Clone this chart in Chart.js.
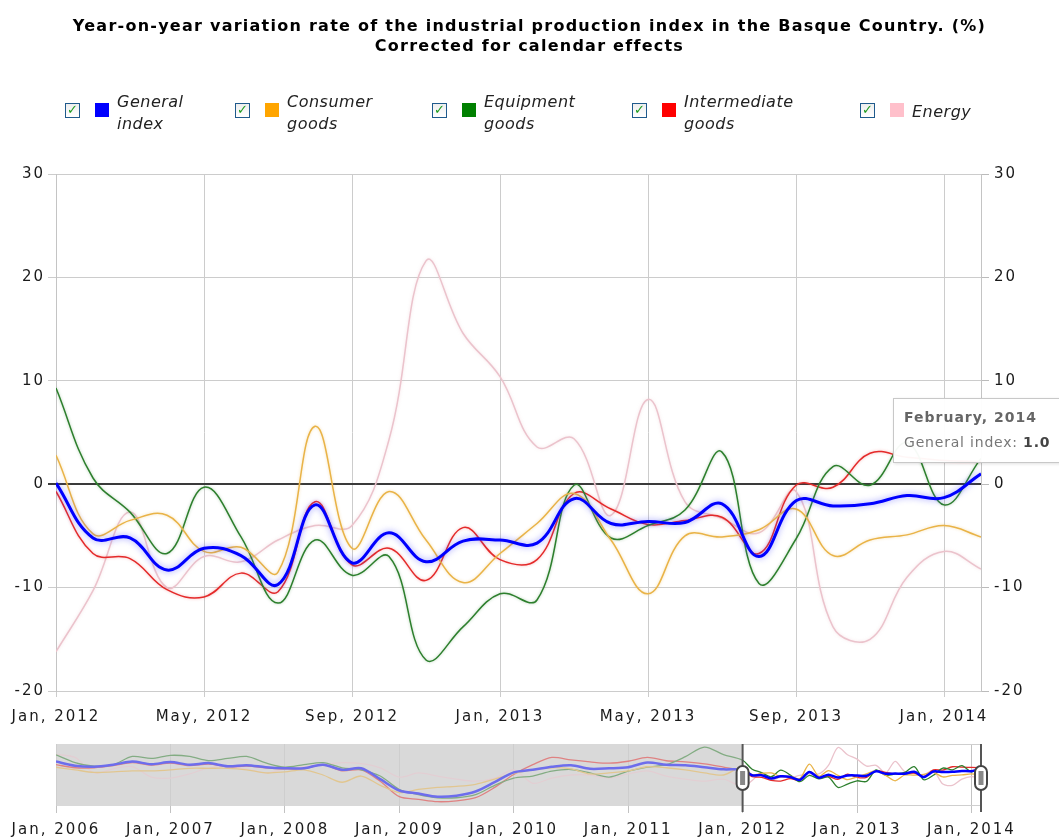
<!DOCTYPE html>
<html>
<head>
<meta charset="utf-8">
<script src="https://cdn.jsdelivr.net/npm/chart.js@4.4.1/dist/chart.umd.min.js"></script>
<style>
html,body{margin:0;padding:0;background:#fff;width:1059px;height:838px;overflow:hidden;font-family:"DejaVu Sans",Verdana,sans-serif;}
#title{position:absolute;left:0;top:16px;width:1059px;text-align:center;font-weight:bold;font-size:16px;line-height:20px;letter-spacing:1.25px;color:#000;}
#legend{position:absolute;top:91px;left:0;width:1059px;height:42px;}
.item{position:absolute;top:0;height:42px;}
.cb{position:absolute;left:0;top:12px;width:13px;height:13px;border:1px solid #1f5a8c;background:linear-gradient(#eeeeee,#fff);}
.cb span{position:absolute;left:1px;top:-2px;font-size:13px;color:#1c9a1c;font-weight:bold;}
.sq{position:absolute;left:30px;top:12px;width:14px;height:14px;}
.lb{position:absolute;left:52px;top:0;font-style:italic;font-size:16px;line-height:22px;color:#222;white-space:nowrap;letter-spacing:0.5px;}
.lb.one{top:10px;}
#main{position:absolute;left:0;top:0;}
#nav{position:absolute;left:0;top:735px;}
#tip{position:absolute;display:none;background:rgba(255,255,255,0.96);border:1px solid #c8c8c8;width:180px;height:63px;box-shadow:1px 1px 3px rgba(0,0,0,0.12);font-family:"DejaVu Sans",sans-serif;}
#tip .t{position:absolute;left:10px;top:10px;font-size:14px;font-weight:bold;color:#666;letter-spacing:1px;}
#tip .b{position:absolute;left:10px;top:35px;font-size:14px;color:#777;white-space:nowrap;letter-spacing:0.8px;}
#tip .b b{color:#444;}
</style>
</head>
<body>
<canvas id="main" width="1059" height="735"></canvas>
<canvas id="nav" width="1059" height="103"></canvas>
<div id="title"></div>
<div id="legend"></div>
<div id="tip"><div class="t"></div><div class="b"></div></div>
<script>
// ---------- data ----------
const chartTitle = ["Year-on-year variation rate of the industrial production index in the Basque Country. (%)", "Corrected for calendar effects"];
const seriesNames = ["General index", "Consumer goods", "Equipment goods", "Intermediate goods", "Energy"];
const monthLabels = ["Jan, 2012","Feb, 2012","Mar, 2012","Apr, 2012","May, 2012","Jun, 2012","Jul, 2012","Aug, 2012","Sep, 2012","Oct, 2012","Nov, 2012","Dec, 2012",
  "Jan, 2013","Feb, 2013","Mar, 2013","Apr, 2013","May, 2013","Jun, 2013","Jul, 2013","Aug, 2013","Sep, 2013","Oct, 2013","Nov, 2013","Dec, 2013",
  "Jan, 2014","Feb, 2014"];
const fullMonthNames = ["January","February","March","April","May","June","July","August","September","October","November","December"];
const xTickMonths = [0, 4, 8, 12, 16, 20, 24];
const yTicks = [-20, -10, 0, 10, 20, 30];

const generalIndex   = [0.1, -5.2, -5.2, -8.3, -6.2, -6.9, -9.7, -2.0, -7.6, -4.7, -7.5, -5.5, -5.4, -5.7, -1.4, -3.8, -3.6, -3.7, -1.9, -7.0, -1.6, -2.1, -1.9, -1.1, -1.3, 1.0];
const consumerGoods  = [2.8, -4.8, -3.5, -3.0, -6.5, -6.1, -8.5, 5.6, -6.2, -0.7, -5.4, -9.5, -6.7, -3.8, -0.9, -5.4, -10.6, -5.0, -5.1, -4.4, -2.4, -6.9, -5.4, -4.9, -4.0, -5.1];
const equipmentGoods = [9.3, 0.6, -2.7, -6.7, -0.3, -5.1, -11.5, -5.4, -8.8, -7.0, -17.0, -13.8, -10.6, -11.2, -0.1, -5.2, -4.0, -2.5, 3.1, -9.6, -5.3, 1.7, -0.1, 4.0, -2.0, 2.5];
const intermediateGoods = [-0.7, -6.7, -7.2, -10.2, -10.9, -8.6, -10.4, -1.7, -7.8, -6.2, -9.3, -4.2, -7.3, -7.3, -0.9, -2.4, -3.9, -3.5, -3.2, -6.7, -0.1, -0.3, 3.0, 2.6, 2.3, 2.2];
const energy         = [-16.2, -10.3, -2.7, -10.0, -7.0, -7.5, -5.4, -4.0, -4.0, 4.3, 21.6, 14.6, 10.4, 3.6, 4.4, -3.0, 8.2, -1.7, -3.3, -4.7, -0.7, -13.8, -15.0, -9.0, -6.5, -8.2];
const seriesValues = [generalIndex, consumerGoods, equipmentGoods, intermediateGoods, energy];

// navigator history (Jan 2006 - Nov 2011, every 2 months; month index from Jan 2006)
const histMonths = [0,2,4,6,8,10,12,14,16,18,20,22,24,26,28,30,32,34,36,38,40,42,44,46,48,50,52,54,56,58,60,62,64,66,68,70];
const histGeneral   = [8, 4, 3, 5, 8, 5.5, 7.5, 5, 6.5, 3.5, 4.5, 2.5, 1.5, 1.5, 5, 0, 1.5, -9, -20, -23, -26, -25, -21, -12, -2.5, 0, 3, 4.5, 1, 1.5, 2.6, 7, 5, 4.5, 2.5, 0.5];
const histConsumer  = [2.5, 0, -2.5, -2, -1, -1, 0, 1.5, 1.5, 1.5, 0, -3, -2, 0, -5, -12, -6, -15, -22, -19, -17, -16, -14, -9, -3.5, 0, 2, 1, -4, -3, -1, 3, 2, 0, -3, -5];
const histEquipment = [14.5, 7, 3.5, 5, 13, 11, 14, 13, 9, 11, 13, 6.7, 2.6, 5, 7, 2, 0, -6, -19, -24, -27, -27, -24, -15, -8, -6, -1.3, 0.3, -3, -7, -1.3, 2.6, 5, 12.7, 22, 14.7];
const histIntermediate = [5, 2, 2, 4, 7, 4.5, 6.5, 4, 5.5, 3, 3.5, 2, 1, 1, 5, -1, 0, -11, -26, -28.5, -30.8, -30, -27, -17, -4.5, 5, 12, 9.6, 7.7, 6.4, 8.3, 12, 8.8, 7.7, 5.8, 2.6];
const histEnergy    = [15, 12, -3, 1, 3, -7, -8, -4, 2, 3, 1, -3, 1, 3, 5, 7, 6, 2, -7, -3, -6, -9, -11, -8, 0, -13, -8, -5, -5, -8, -4, -1, -6, -9, -11, -9];
const histValues = [histGeneral, histConsumer, histEquipment, histIntermediate, histEnergy];
const navStartMain = 72; // Jan 2012 as month index from Jan 2006
const navTickMonths = [0, 12, 24, 36, 48, 60, 72, 84, 96];
const navTickLabels = ["Jan, 2006","Jan, 2007","Jan, 2008","Jan, 2009","Jan, 2010","Jan, 2011","Jan, 2012","Jan, 2013","Jan, 2014"];

// ---------- styles ----------
const lineColors = ["#0000ff", "#e9b347", "#2d7f2d", "#e42a2a", "#ebc3cc"];
const legendColors = ["#0000ff", "#ffa500", "#008000", "#ff0000", "#ffc0cb"];
const glowColors = ["rgba(70,70,255,0.55)", "rgba(233,179,71,0.45)", "rgba(45,127,45,0.35)", "rgba(228,42,42,0.35)", "rgba(235,195,204,0.5)"];
const legendLeft = [65, 235, 432, 632, 860];
const tickFont = {family: "DejaVu Sans", size: 15};
const tickColor = "#1a1a1a";

// ---------- html title & legend ----------
document.getElementById('title').innerHTML = chartTitle.join('<br>');
const leg = document.getElementById('legend');
seriesNames.forEach((n, k) => {
  const it = document.createElement('div');
  it.className = 'item';
  it.style.left = legendLeft[k] + 'px';
  const sp = n.indexOf(' ');
  const txt = sp > 0 ? n.slice(0, sp) + '<br>' + n.slice(sp + 1) : n;
  it.innerHTML = '<div class="cb"><span>&#10003;</span></div><div class="sq" style="background:' + legendColors[k] + '"></div>' +
    '<div class="lb' + (sp > 0 ? '' : ' one') + '">' + txt + '</div>';
  leg.appendChild(it);
});

// ---------- plugins ----------
const spacing = {
  id: 'spacing',
  beforeUpdate(c) { c.ctx.letterSpacing = '2px'; },
  beforeDraw(c) { c.ctx.letterSpacing = '2px'; }
};
const glow = {
  id: 'glow',
  beforeDatasetDraw(chart, args) {
    const ds = chart.data.datasets[args.index];
    const c = chart.ctx;
    c.save();
    if (ds.glowColor) { c.shadowColor = ds.glowColor; c.shadowBlur = ds.glowBlur; }
  },
  afterDatasetDraw(chart) { chart.ctx.restore(); }
};

// ---------- main chart ----------
const mainChart = new Chart(document.getElementById('main'), {
  type: 'line',
  data: {
    datasets: seriesNames.map((n, k) => ({
      label: n,
      data: seriesValues[k].map((v, i) => ({x: i, y: v})),
      borderColor: lineColors[k],
      backgroundColor: lineColors[k],
      borderWidth: k === 0 ? 3 : 1.5,
      pointRadius: 0,
      pointHoverRadius: 0,
      tension: 0.4,
      fill: false,
      glowColor: glowColors[k],
      glowBlur: k === 0 ? 6 : 3
    }))
  },
  options: {
    responsive: false,
    animation: false,
    events: [],
    layout: {padding: {top: 174, left: 0, right: 0, bottom: 0}},
    plugins: {
      legend: {display: false},
      title: {display: false},
      tooltip: {
        enabled: false,
        mode: 'nearest',
        callbacks: {
          title: (items) => {
            const m = items[0].parsed.x;
            return fullMonthNames[m % 12] + ', ' + (2012 + Math.floor(m / 12));
          }
        },
        external: (context) => {
          const tt = context.tooltip;
          const el = document.getElementById('tip');
          if (tt.opacity === 0 || !tt.dataPoints || !tt.dataPoints.length) { el.style.display = 'none'; return; }
          const dp = tt.dataPoints[0];
          el.querySelector('.t').textContent = tt.title[0];
          el.querySelector('.b').innerHTML = dp.dataset.label + ': <b>' + dp.parsed.y.toFixed(1) + '</b>';
          el.style.left = (tt.caretX - 88) + 'px';
          el.style.top = (tt.caretY - 76) + 'px';
          el.style.display = 'block';
        }
      }
    },
    scales: {
      x: {
        type: 'linear', min: 0, max: monthLabels.length - 1,
        afterBuildTicks: (s) => { s.ticks = xTickMonths.map(v => ({value: v})); },
        afterFit: (s) => { s.height = 44; },
        ticks: {autoSkip: false, maxRotation: 0, minRotation: 0, font: tickFont, color: tickColor, padding: 11,
          callback: (v) => monthLabels[v] || ''},
        grid: {color: '#cccccc', lineWidth: 1, tickLength: 6, drawTicks: true},
        border: {display: false}
      },
      y: {
        position: 'left', min: yTicks[0], max: yTicks[yTicks.length - 1],
        afterBuildTicks: (s) => { s.ticks = yTicks.map(v => ({value: v})); },
        afterFit: (s) => { s.width = 56; },
        ticks: {font: tickFont, color: tickColor, padding: 3},
        grid: {
          color: (c) => (c.tick && c.tick.value === 0) ? '#3a3a3a' : '#cccccc',
          lineWidth: (c) => (c.tick && c.tick.value === 0) ? 2 : 1,
          tickLength: 8
        },
        border: {color: '#c4c4c4'}
      },
      y2: {
        position: 'right', min: yTicks[0], max: yTicks[yTicks.length - 1],
        afterBuildTicks: (s) => { s.ticks = yTicks.map(v => ({value: v})); },
        afterFit: (s) => { s.width = 78; },
        ticks: {font: tickFont, color: tickColor, padding: 5},
        grid: {drawOnChartArea: false, color: '#bbbbbb', tickLength: 8},
        border: {color: '#c4c4c4'}
      }
    }
  },
  plugins: [spacing, glow]
});
mainChart.tooltip.setActiveElements([{datasetIndex: 0, index: generalIndex.length - 1}], {x: 0, y: 0});
mainChart.update();

// ---------- navigator ----------
const navSelStart = navStartMain;
const navSelEnd = navStartMain + monthLabels.length - 1;
const navDecor = {
  id: 'navDecor',
  beforeDraw(chart) {
    const {ctx, chartArea: a, scales: {x}} = chart;
    const xs = x.getPixelForValue(navSelStart);
    ctx.save();
    ctx.fillStyle = '#d9d9d9';
    ctx.fillRect(a.left, a.top, xs - a.left, a.bottom - a.top);
    ctx.restore();
  },
  afterDatasetsDraw(chart) {
    const {ctx, chartArea: a, scales: {x}} = chart;
    const xs = x.getPixelForValue(navSelStart);
    const xe = x.getPixelForValue(navSelEnd);
    ctx.save();
    ctx.fillStyle = 'rgba(217,217,217,0.5)';
    ctx.fillRect(a.left, a.top, xs - a.left, a.bottom - a.top);
    ctx.strokeStyle = '#cfcfcf';
    ctx.lineWidth = 1;
    ctx.beginPath();
    ctx.moveTo(xs, a.top + 0.5); ctx.lineTo(xe, a.top + 0.5);
    ctx.moveTo(xs, a.bottom - 0.5); ctx.lineTo(xe, a.bottom - 0.5);
    ctx.stroke();
    const cy = (a.top + a.bottom) / 2 + 3;
    [xs, xe].forEach(px => {
      ctx.strokeStyle = '#555';
      ctx.lineWidth = 2;
      ctx.beginPath(); ctx.moveTo(px, a.top); ctx.lineTo(px, a.bottom + 6); ctx.stroke();
      ctx.fillStyle = '#fff';
      ctx.strokeStyle = '#444';
      ctx.lineWidth = 2;
      ctx.beginPath();
      ctx.roundRect(px - 6, cy - 12, 12, 24, 6);
      ctx.fill(); ctx.stroke();
      ctx.fillStyle = '#888';
      ctx.fillRect(px - 2.5, cy - 7, 5, 14);
    });
    ctx.restore();
  }
};
new Chart(document.getElementById('nav'), {
  type: 'line',
  data: {
    datasets: seriesNames.map((n, k) => ({
      label: n,
      data: histMonths.map((m, j) => ({x: m, y: histValues[k][j]}))
        .concat(seriesValues[k].map((v, i) => ({x: navStartMain + i, y: v}))),
      borderColor: lineColors[k],
      borderWidth: k === 0 ? 2.5 : 1.3,
      pointRadius: 0,
      tension: 0.3,
      fill: false
    }))
  },
  options: {
    responsive: false,
    animation: false,
    events: [],
    layout: {padding: {top: 9, left: 56, right: 78, bottom: 0}},
    plugins: {legend: {display: false}, tooltip: {enabled: false}},
    scales: {
      x: {
        type: 'linear', min: 0, max: navSelEnd,
        afterBuildTicks: (s) => { s.ticks = navTickMonths.map(v => ({value: v})); },
        afterFit: (s) => { s.height = 32; },
        ticks: {autoSkip: false, maxRotation: 0, minRotation: 0, font: tickFont, color: tickColor, padding: 8,
          callback: (v) => navTickLabels[navTickMonths.indexOf(v)] || ''},
        grid: {color: '#c2c2c2', tickLength: 7},
        border: {display: false}
      },
      y: {display: false, min: -35, max: 25}
    }
  },
  plugins: [spacing, navDecor]
});
</script>
</body>
</html>
